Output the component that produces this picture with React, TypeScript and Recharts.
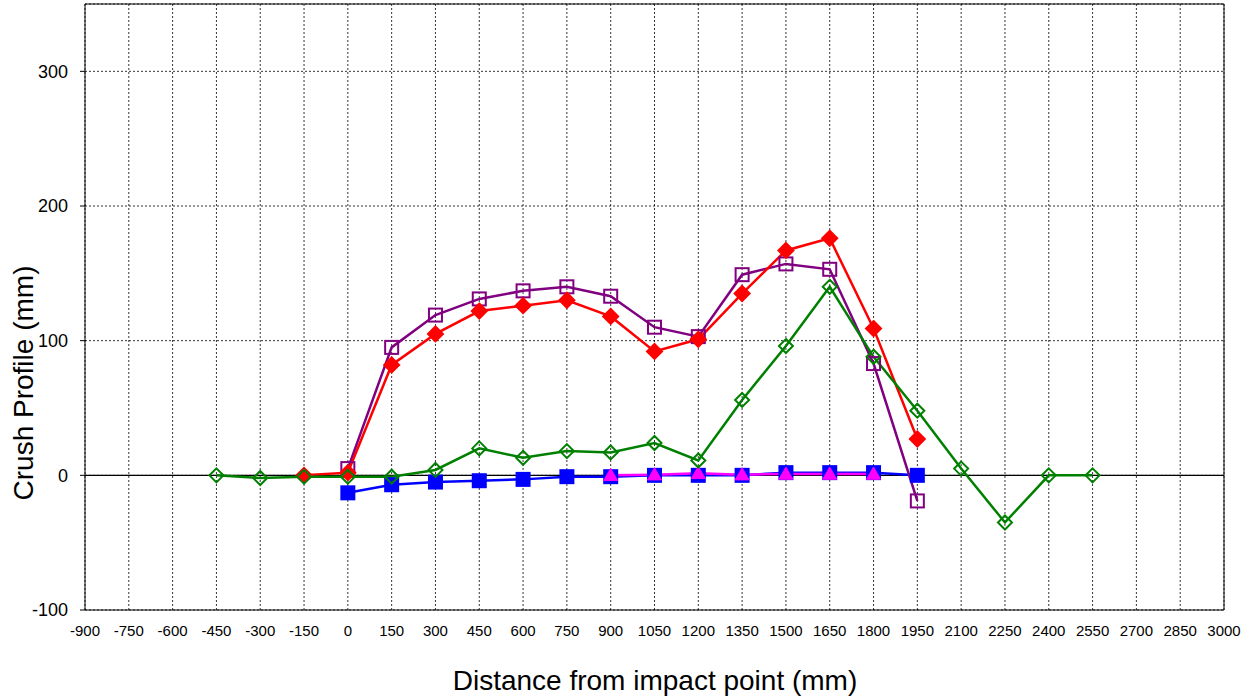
import React from "react";
import {
  LineChart,
  Line,
  XAxis,
  YAxis,
  CartesianGrid,
  ReferenceLine,
} from "recharts";

// distances along the profile (mm)
const xTicks = [
  -900, -750, -600, -450, -300, -150, 0, 150, 300, 450, 600, 750, 900, 1050,
  1200, 1350, 1500, 1650, 1800, 1950, 2100, 2250, 2400, 2550, 2700, 2850, 3000,
];
const yTicks = [-100, 0, 100, 200, 300];

const greenX = [-450, -300, -150, 0, 150, 300, 450, 600, 750, 900, 1050, 1200, 1350, 1500, 1650, 1800, 1950, 2100, 2250, 2400, 2550];
const greenY = [0, -2, -1, -1, -1, 4, 20, 13, 18, 17, 24, 11, 56, 96, 140, 88, 48, 5, -35, 0, 0];

const redX = [-150, 0, 150, 300, 450, 600, 750, 900, 1050, 1200, 1350, 1500, 1650, 1800, 1950];
const redY = [0, 2, 82, 105, 122, 126, 130, 118, 92, 101, 135, 167, 176, 109, 27];

const purpleX = [0, 150, 300, 450, 600, 750, 900, 1050, 1200, 1350, 1500, 1650, 1800, 1950];
const purpleY = [5, 95, 119, 131, 137, 140, 133, 110, 103, 149, 157, 153, 83, -19];

const blueX = [0, 150, 300, 450, 600, 750, 900, 1050, 1200, 1350, 1500, 1650, 1800, 1950];
const blueY = [-13, -7, -5, -4, -3, -1, -1, 0, 0, 0, 2, 2, 2, 0];

const magentaX = [900, 1050, 1200, 1350, 1500, 1650, 1800];
const magentaY = [0, 0.5, 1.5, 0.5, 1, 1, 1];

const pts = (xs: number[], ys: number[]) => xs.map((x, i) => ({ x, y: ys[i] }));

const FONT = "'Liberation Sans', Arial, sans-serif";

const diamond = (color: string, r: number, filled: boolean) => (p: any) => {
  const { cx, cy, index } = p;
  if (cx == null || cy == null) return <g key={index} />;
  return (
    <path
      key={index}
      d={`M${cx},${cy - r}L${cx + r},${cy}L${cx},${cy + r}L${cx - r},${cy}Z`}
      fill={filled ? color : "none"}
      stroke={color}
      strokeWidth={2}
    />
  );
};

const square = (color: string, h: number, filled: boolean) => (p: any) => {
  const { cx, cy, index } = p;
  if (cx == null || cy == null) return <g key={index} />;
  return (
    <rect
      key={index}
      x={cx - h}
      y={cy - h}
      width={h * 2}
      height={h * 2}
      fill={filled ? color : "none"}
      stroke={color}
      strokeWidth={2}
    />
  );
};

const triangle = (color: string, r: number) => (p: any) => {
  const { cx, cy, index } = p;
  if (cx == null || cy == null) return <g key={index} />;
  return (
    <path
      key={index}
      d={`M${cx},${cy - r}L${cx + r},${cy + r * 0.75}L${cx - r},${cy + r * 0.75}Z`}
      fill={color}
      stroke={color}
      strokeWidth={1}
    />
  );
};

const YLabel = () => (
  <text
    x={33}
    y={383}
    transform="rotate(-90 33 383)"
    textAnchor="middle"
    fontSize={28}
    fontFamily={FONT}
    fill="#000"
  >
    Crush Profile (mm)
  </text>
);

const XLabel = () => (
  <text
    x={655}
    y={690}
    textAnchor="middle"
    fontSize={28}
    fontFamily={FONT}
    fill="#000"
  >
    Distance from impact point (mm)
  </text>
);

export default function App() {
  const xTick = { fill: "#000", fontSize: 15, fontFamily: FONT };
  const yTick = { fill: "#000", fontSize: 18, fontFamily: FONT };
  return (
    <div style={{ position: "absolute", left: 0, top: 0, width: 1253, height: 698, background: "#fff" }}>
      <LineChart
        width={1253}
        height={698}
        margin={{ top: 4, right: 29, left: 0, bottom: 0 }}
      >
        <CartesianGrid stroke="#000" strokeDasharray="2 2" strokeWidth={0.8} />
        <XAxis
          type="number"
          dataKey="x"
          domain={[-900, 3000]}
          ticks={xTicks}
          interval={0}
          height={88}
          tickLine={false}
          tickMargin={9}
          axisLine={{ stroke: "#000" }}
          tick={xTick}
          label={<XLabel />}
        />
        <YAxis
          type="number"
          dataKey="y"
          domain={[-100, 350]}
          ticks={yTicks}
          interval={0}
          width={85}
          tickSize={5}
          tickMargin={12}
          axisLine={{ stroke: "#000" }}
          tickLine={{ stroke: "#000" }}
          tick={yTick}
          label={<YLabel />}
        />
        <ReferenceLine y={0} stroke="#000" strokeWidth={1.2} />
        <ReferenceLine y={350} stroke="#000" strokeWidth={1} />
        <ReferenceLine x={3000} stroke="#000" strokeWidth={1} />
        <Line
          data={pts(blueX, blueY)}
          dataKey="y"
          stroke="#0000ff"
          strokeWidth={2.5}
          dot={square("#0000ff", 6.5, true)}
          isAnimationActive={false}
        />
        <Line
          data={pts(magentaX, magentaY)}
          dataKey="y"
          stroke="#ff00ff"
          strokeWidth={2.5}
          dot={triangle("#ff00ff", 7)}
          isAnimationActive={false}
        />
        <Line
          data={pts(purpleX, purpleY)}
          dataKey="y"
          stroke="#800080"
          strokeWidth={2.5}
          dot={square("#800080", 6.5, false)}
          isAnimationActive={false}
        />
        <Line
          data={pts(redX, redY)}
          dataKey="y"
          stroke="#ff0000"
          strokeWidth={2.5}
          dot={diamond("#ff0000", 7.5, true)}
          isAnimationActive={false}
        />
        <Line
          data={pts(greenX, greenY)}
          dataKey="y"
          stroke="#008000"
          strokeWidth={2.5}
          dot={diamond("#008000", 7, false)}
          isAnimationActive={false}
        />
      </LineChart>
    </div>
  );
}
